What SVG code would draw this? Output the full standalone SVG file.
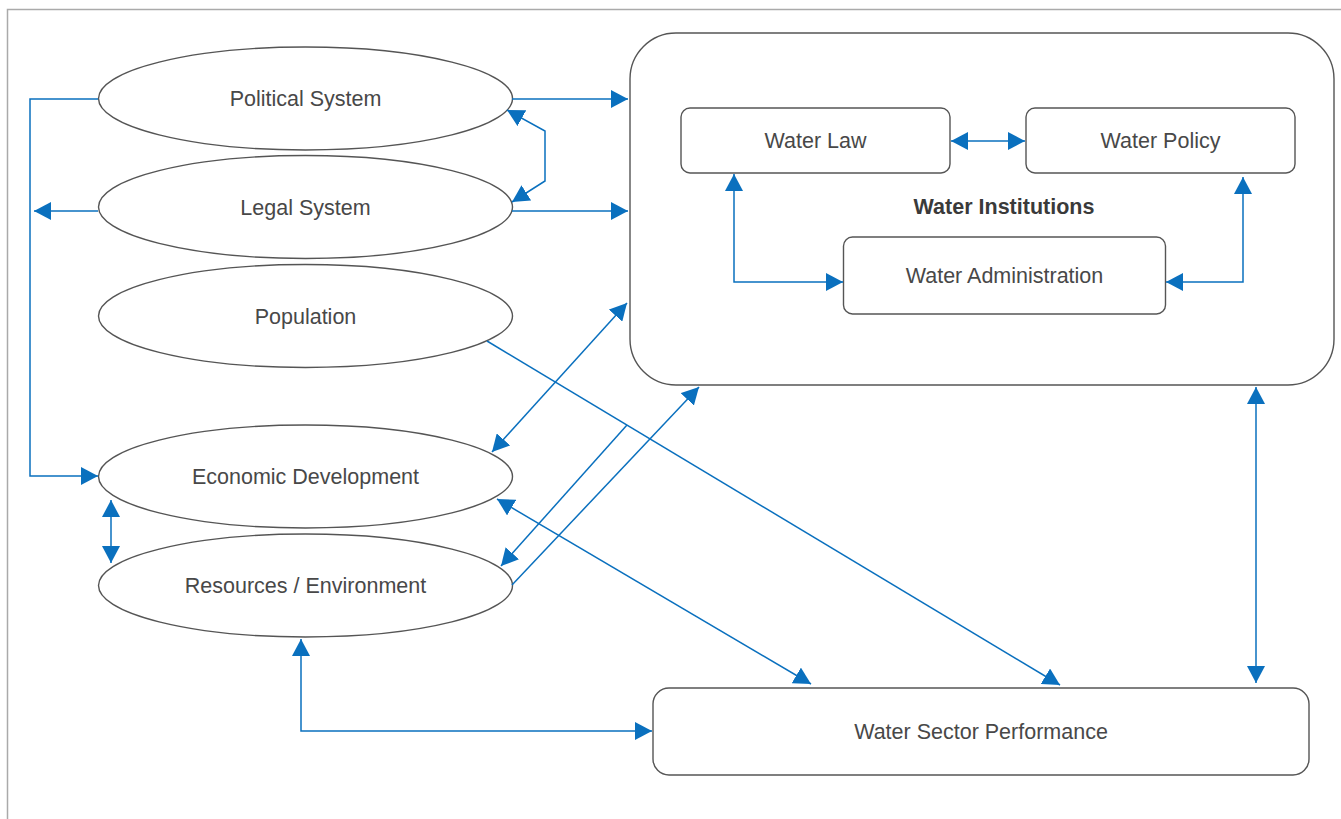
<svg xmlns="http://www.w3.org/2000/svg" width="1341" height="819" viewBox="0 0 1341 819">
<style>
.frame{fill:none;stroke:#aaaaaa;stroke-width:1.5}
.node{fill:#ffffff;stroke:#555555;stroke-width:1.4}
.lbl{font-family:"Liberation Sans",Arial,sans-serif;font-size:21.5px;fill:#484848;text-anchor:middle}
.bold{font-weight:bold;font-size:21.5px;fill:#3a3a3a}
.c{fill:none;stroke:#0a70be;stroke-width:1.5}
</style>
<defs>
<marker id="ah" markerUnits="userSpaceOnUse" markerWidth="17" markerHeight="18" viewBox="0 0 17 18" refX="17" refY="9" orient="auto-start-reverse">
<path d="M0,0 L17,9 L0,18 z" fill="#0a70be"/>
</marker>
</defs>
<rect width="1341" height="819" fill="#ffffff"/>
<path class="frame" d="M7.5,819 V9.5 H1341"/>

<g id="political-system">
<ellipse class="node" cx="305.5" cy="98.5" rx="207" ry="51.5"/>
<text class="lbl" x="305.5" y="106">Political System</text>
</g>
<g id="legal-system">
<ellipse class="node" cx="305.5" cy="207" rx="207" ry="51.5"/>
<text class="lbl" x="305.5" y="214.5">Legal System</text>
</g>
<g id="population">
<ellipse class="node" cx="305.5" cy="316" rx="207" ry="51.5"/>
<text class="lbl" x="305.5" y="323.5">Population</text>
</g>
<g id="economic-development">
<ellipse class="node" cx="305.5" cy="476.5" rx="207" ry="51.5"/>
<text class="lbl" x="305.5" y="484">Economic Development</text>
</g>
<g id="resources-environment">
<ellipse class="node" cx="305.5" cy="585.5" rx="207" ry="51.5"/>
<text class="lbl" x="305.5" y="593">Resources / Environment</text>
</g>

<g id="water-institutions">
<rect class="node" x="630" y="33" width="704" height="352" rx="46" ry="46"/>
<text class="lbl bold" x="1004" y="213.5">Water Institutions</text>
</g>
<g id="water-law">
<rect class="node" x="681" y="108" width="269" height="65" rx="9" ry="9"/>
<text class="lbl" x="815.5" y="148">Water Law</text>
</g>
<g id="water-policy">
<rect class="node" x="1026" y="108" width="269" height="65" rx="9" ry="9"/>
<text class="lbl" x="1160.5" y="148">Water Policy</text>
</g>
<g id="water-administration">
<rect class="node" x="843.5" y="237" width="322" height="77" rx="9" ry="9"/>
<text class="lbl" x="1004.5" y="282.5">Water Administration</text>
</g>
<g id="water-sector-performance">
<rect class="node" x="653" y="688" width="656" height="87" rx="16" ry="16"/>
<text class="lbl" x="981" y="738.5">Water Sector Performance</text>
</g>

<g id="connectors">
<path class="c" d="M512,99 H628" marker-end="url(#ah)"/>
<path class="c" d="M512,211 H628" marker-end="url(#ah)"/>
<path class="c" d="M507,110 L545,131 V181 L512,202" marker-start="url(#ah)" marker-end="url(#ah)"/>
<path class="c" d="M98,211 H34" marker-end="url(#ah)"/>
<path class="c" d="M98,99 H30 V476 H98" marker-end="url(#ah)"/>
<path class="c" d="M111,500 V563" marker-start="url(#ah)" marker-end="url(#ah)"/>
<path class="c" d="M301,639 V731 H652" marker-start="url(#ah)" marker-end="url(#ah)"/>
<path class="c" d="M492,452 L627,303" marker-start="url(#ah)" marker-end="url(#ah)"/>
<path class="c" d="M627,425 L501,566" marker-end="url(#ah)"/>
<path class="c" d="M512,585 L699,387" marker-end="url(#ah)"/>
<path class="c" d="M497,499 L811,684" marker-start="url(#ah)" marker-end="url(#ah)"/>
<path class="c" d="M487,341 L1060,685" marker-end="url(#ah)"/>
<path class="c" d="M1256,387 V683" marker-start="url(#ah)" marker-end="url(#ah)"/>
<path class="c" d="M951,141 H1025" marker-start="url(#ah)" marker-end="url(#ah)"/>
<path class="c" d="M734,174 V282 H843" marker-start="url(#ah)" marker-end="url(#ah)"/>
<path class="c" d="M1243,177 V282 H1166" marker-start="url(#ah)" marker-end="url(#ah)"/>
</g>
</svg>
